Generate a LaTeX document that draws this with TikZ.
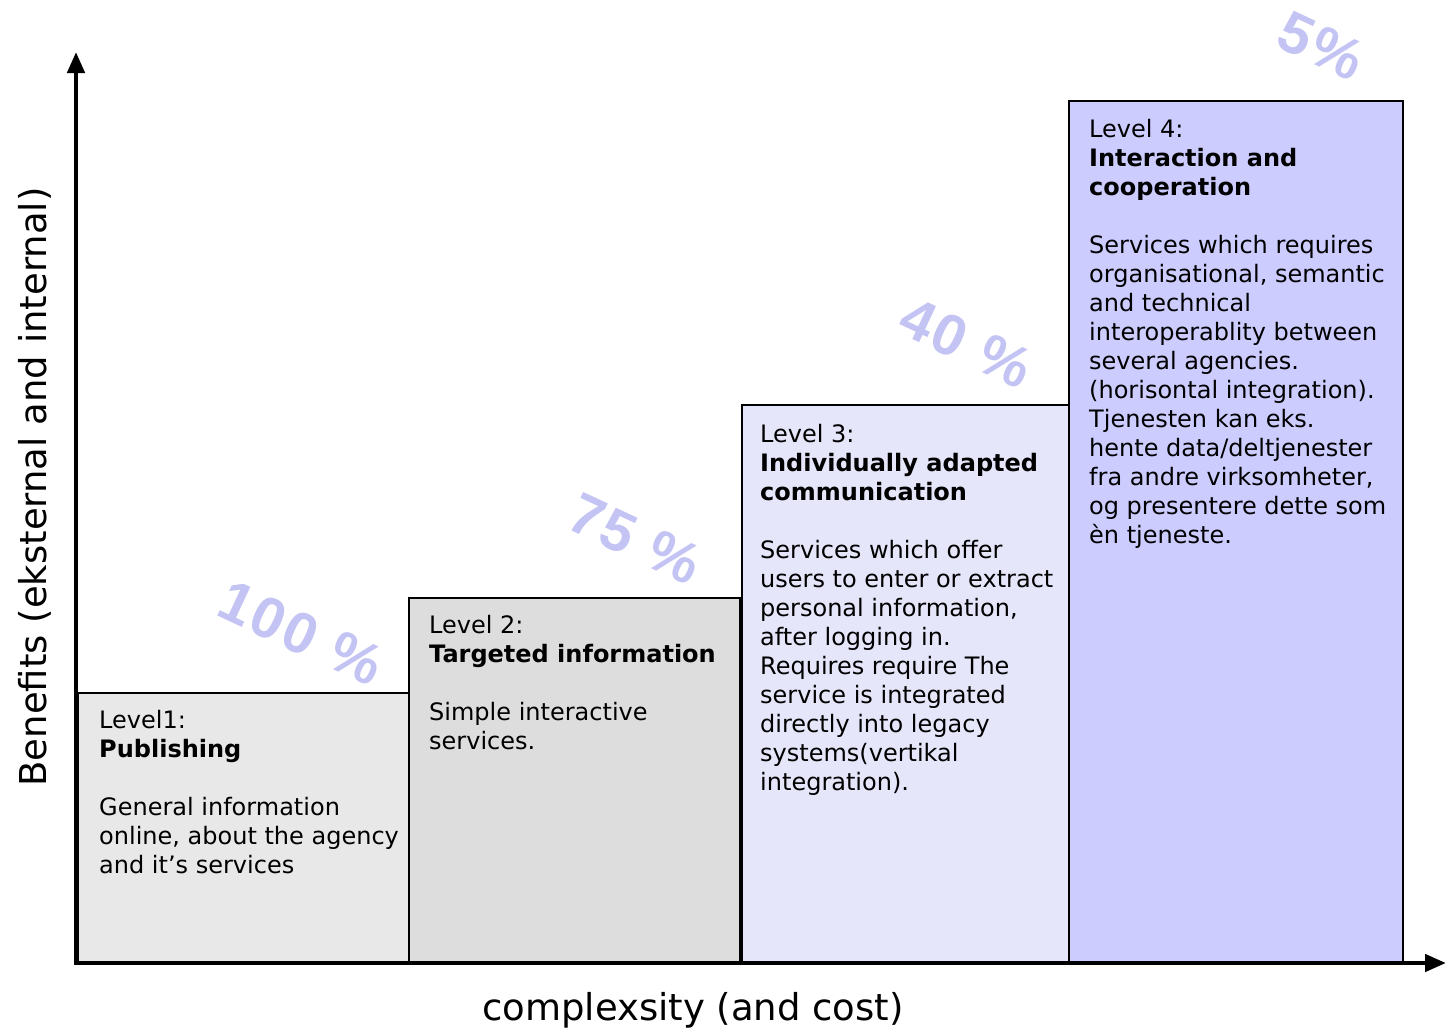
\documentclass[tikz,border=0pt]{standalone}
\usepackage{fontspec}
\setmainfont{DejaVu Sans}
\newfontfamily\pctfont{Liberation Sans}[BoldFeatures={LetterSpace=5}]
\usetikzlibrary{arrows.meta}
\definecolor{lvlone}{HTML}{E8E8E8}
\definecolor{lvltwo}{HTML}{DDDDDD}
\definecolor{lvlthree}{HTML}{E6E6FA}
\definecolor{lvlfour}{HTML}{CCCCFF}
\definecolor{pctfill}{HTML}{C4C4F4}
\begin{document}
\begin{tikzpicture}[x=1pt,y=-1pt,
  levelbox/.style={draw=black,line width=1.6pt},
  boxtext/.style={anchor=north west,inner sep=0pt,align=left,
    font=\fontsize{24}{29}\selectfont},
  axis/.style={line width=4.5pt,-{Triangle[length=21pt,width=17pt]}},
  axislabel/.style={inner sep=0pt,font=\fontsize{37}{40}\selectfont},
  pct/.style={inner sep=0pt,rotate=-25,text=pctfill,
    font=\pctfont\bfseries\fontsize{58}{58}\selectfont}]
\useasboundingbox (0,0) rectangle (1446,1028);

% level columns
\draw[levelbox,fill=lvlone]   (78,693)   rectangle (409,962);
\draw[levelbox,fill=lvltwo]   (409,598)  rectangle (740,962);
\draw[levelbox,fill=lvlthree] (742,405)  rectangle (1069,962);
\draw[levelbox,fill=lvlfour]  (1069,101) rectangle (1403,962);

% column texts
\node[boxtext] (t1) at (99,710) {Level1:\\\textbf{Publishing}\\[29pt]
  General information\\online, about the agency\\and it’s services};
\node[boxtext] (t2) at (429,615) {Level 2:\\\textbf{Targeted information}\\[29pt]
  Simple interactive\\services.};
\node[boxtext] (t3) at (760,424) {Level 3:\\\textbf{Individually adapted}\\
  \textbf{communication}\\[29pt]
  Services which offer\\users to enter or extract\\personal information,\\
  after logging in.\\Requires require The\\service is integrated\\
  directly into legacy\\systems(vertikal\\integration).};
\node[boxtext] (t4) at (1089,119) {Level 4:\\\textbf{Interaction and}\\
  \textbf{cooperation}\\[29pt]
  Services which requires\\organisational, semantic\\and technical\\
  interoperablity between\\several agencies.\\(horisontal integration).\\
  Tjenesten kan eks.\\hente data/deltjenester\\fra andre virksomheter,\\
  og presentere dette som\\èn tjeneste.};

% shares above the columns
\node[pct] (p1) at (301,633) {100 \%};
\node[pct] (p2) at (635,539) {75 \%};
\node[pct] (p3) at (966,343) {40 \%};
\node[pct] (p4) at (1321,46) {5\%};

% axes
\coordinate (origin) at (76,963);
\coordinate (ytip) at (76,52);
\coordinate (xtip) at (1446,963);
\draw[axis] ([yshift=2pt]origin) -- (ytip);
\draw[axis] ([xshift=-2pt]origin) -- (xtip);

\node[axislabel,rotate=90] (ylab) at (35,487) {Benefits (eksternal and internal)};
\node[axislabel] (xlab) at (693,1010) {complexsity (and cost)};
\end{tikzpicture}
\end{document}
